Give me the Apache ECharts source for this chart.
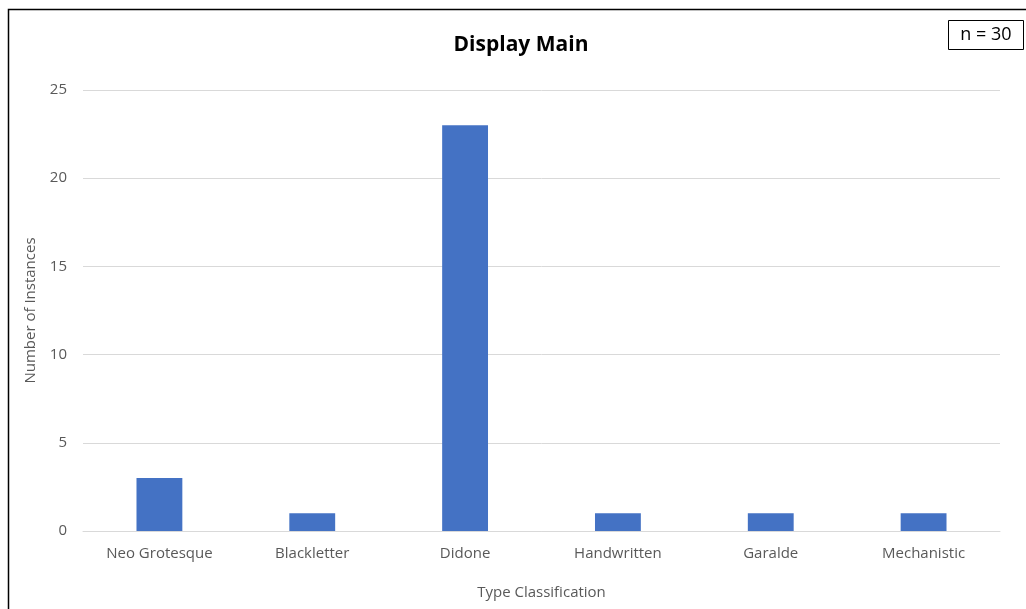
<!DOCTYPE html>
<html>
<head>
<meta charset="utf-8">
<script src="https://cdn.jsdelivr.net/npm/echarts@6/dist/echarts.min.js"></script>
<style>
  html, body { margin: 0; padding: 0; background: #ffffff; }
  #chart { width: 1026px; height: 609px; }
</style>
</head>
<body>
<div id="chart"></div>
<script>
// Type classifications and how many samples fall into each
const categories = ['Neo Grotesque', 'Blackletter', 'Didone', 'Handwritten', 'Garalde', 'Mechanistic'];
const instances = [3, 1, 23, 1, 1, 1];
const yTicks = { min: 0, max: 25, interval: 5 };
const sampleNote = 'n = 30';

const FONT = '"Open Sans", "Noto Sans", sans-serif';
const TEXT = '#595959';

const chart = echarts.init(document.getElementById('chart'), null, { renderer: 'canvas' });
chart.setOption({
  backgroundColor: '#ffffff',
  animation: false,
  title: {
    text: 'Display Main',
    left: 516,
    top: 30,
    textAlign: 'center',
    textStyle: { fontFamily: FONT, fontSize: 21, fontWeight: 'bold', color: '#000000' }
  },
  grid: { left: 83, right: 26, top: 90, bottom: 78, containLabel: false },
  xAxis: {
    type: 'category',
    data: categories,
    name: 'Type Classification',
    nameLocation: 'middle',
    nameGap: 54,
    nameTextStyle: { fontFamily: FONT, fontSize: 15, color: TEXT },
    axisLine: { show: true, lineStyle: { color: '#d9d9d9', width: 1 } },
    axisTick: { show: false },
    axisLabel: { fontFamily: FONT, fontSize: 15, color: TEXT, margin: 15 }
  },
  yAxis: {
    type: 'value',
    min: yTicks.min,
    max: yTicks.max,
    interval: yTicks.interval,
    name: 'Number of Instances',
    nameLocation: 'middle',
    nameGap: 45,
    nameRotate: 90,
    nameTextStyle: { fontFamily: FONT, fontSize: 15, color: TEXT },
    axisLine: { show: false },
    axisTick: { show: false },
    axisLabel: { fontFamily: FONT, fontSize: 15, color: TEXT, margin: 16 },
    splitLine: { lineStyle: { color: '#d9d9d9', width: 1 } }
  },
  series: [{
    type: 'bar',
    data: instances,
    barWidth: '30%',
    itemStyle: { color: '#4472C4' }
  }],
  graphic: [
    {
      type: 'rect',
      shape: { x: 8.5, y: 9.5, width: 1040, height: 620 },
      style: { fill: 'none', stroke: '#000000', lineWidth: 1.5 },
      silent: true
    },
    {
      type: 'group',
      left: 948,
      top: 20,
      children: [
        {
          type: 'rect',
          shape: { x: 0.5, y: 0.5, width: 75, height: 29 },
          style: { fill: '#ffffff', stroke: '#000000', lineWidth: 1 }
        },
        {
          type: 'text',
          style: {
            x: 38, y: 15,
            text: sampleNote,
            fontFamily: FONT,
            fontSize: 18,
            fill: '#000000',
            textAlign: 'center',
            textVerticalAlign: 'middle'
          }
        }
      ]
    }
  ]
});
</script>
</body>
</html>
